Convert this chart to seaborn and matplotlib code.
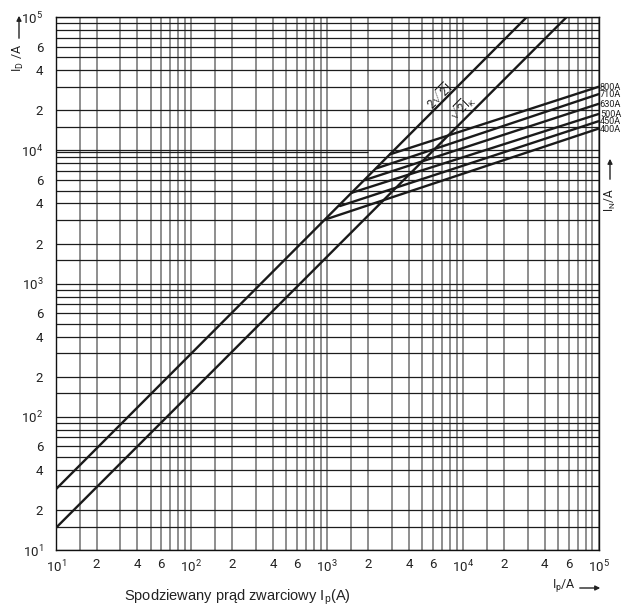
import numpy as np
import pandas as pd
import matplotlib
matplotlib.use("Agg")
import matplotlib.pyplot as plt
import seaborn as sns
from matplotlib import font_manager as fm
from matplotlib.ticker import FixedLocator

# ---------------- data ----------------
# peak-current lines (end points)
line_2sqrt2_x = [10, 29400]
line_2sqrt2_y = [28.5, 100000]
line_sqrt2_x = [10, 57800]
line_sqrt2_y = [14.6, 100000]

# fuse cut-off characteristics (start on 2*sqrt2 line, end at right edge)
fuse_ratings = ["400A", "450A", "500A", "630A", "710A", "800A"]
fuse_start_x = [991, 1242, 1514, 1897, 2316, 2904]
fuse_start_y = [3055, 3826, 4810, 6000, 7350, 9360]
fuse_end_x = [100000, 100000, 100000, 100000, 100000, 100000]
fuse_end_y = [14600, 16600, 18800, 22400, 26500, 30100]

decades = [10, 100, 1000, 10000, 100000]
decade_labels = [r"$\mathregular{10^{1}}$", r"$\mathregular{10^{2}}$", r"$\mathregular{10^{3}}$",
                 r"$\mathregular{10^{4}}$", r"$\mathregular{10^{5}}$"]
minor_label_mult = [2, 4, 6]
grid_mult = [1, 1.5, 2, 3, 4, 5, 6, 7, 8, 9]

# ---------------- style ----------------
sns.set_style("white")
names = {f.name for f in fm.fontManager.ttflist}
narrow = "Roboto" if "Roboto" in names else "DejaVu Sans"
plt.rcParams["font.family"] = [narrow, "DejaVu Sans"]
plt.rcParams["mathtext.fontset"] = "custom"
plt.rcParams["mathtext.rm"] = narrow
plt.rcParams["mathtext.it"] = narrow + ":italic"

W, H = 624, 612
fig = plt.figure(figsize=(W / 100, H / 100), dpi=100)
L, R, T, B = 55.7, 598.7, 17.3, 550.0
ax = fig.add_axes([L / W, 1 - B / H, (R - L) / W, (B - T) / H])

# ---------------- curves ----------------
rows = []
rows += [dict(x=x, y=y, curve="2sqrt2") for x, y in zip(line_2sqrt2_x, line_2sqrt2_y)]
rows += [dict(x=x, y=y, curve="sqrt2") for x, y in zip(line_sqrt2_x, line_sqrt2_y)]
for name, sx, sy, ex, ey in zip(fuse_ratings, fuse_start_x, fuse_start_y, fuse_end_x, fuse_end_y):
    rows += [dict(x=sx, y=sy, curve=name), dict(x=ex, y=ey, curve=name)]
df = pd.DataFrame(rows)

ax.set_xscale("log")
ax.set_yscale("log")
ax.set_xlim(10, 100000)
ax.set_ylim(10, 100000)

# grid
gx = [m * d for d in decades[:-1] for m in grid_mult] + [100000]
for v in gx:
    ax.axvline(v, color="#707070", lw=1.1, zorder=1)
for v in gx:
    ax.axhline(v, color="#1c1c1c", lw=0.9, zorder=1)
ax.hlines(9800, 10, 2000, color="#1c1c1c", lw=0.9, zorder=1)

sns.lineplot(data=df, x="x", y="y", units="curve", estimator=None, sort=False,
             color="#1a1a1a", lw=1.7, ax=ax, legend=False, zorder=3)
ax.set_xlim(10, 100000)
ax.set_ylim(10, 100000)

# ticks
maj = []
lab = []
for d, dl in zip(decades, decade_labels):
    maj.append(d); lab.append(dl)
    if d < 100000:
        for m in minor_label_mult:
            maj.append(m * d); lab.append(str(m))
ax.xaxis.set_major_locator(FixedLocator(maj))
ax.yaxis.set_major_locator(FixedLocator(maj))
ax.xaxis.set_minor_locator(FixedLocator([]))
ax.yaxis.set_minor_locator(FixedLocator([]))
ax.set_xticklabels(lab)
ax.set_yticklabels(lab)
ax.tick_params(axis="both", length=0, labelsize=9.5, colors="#222222")
ax.tick_params(axis="x", pad=6)
ax.tick_params(axis="y", pad=9)
ax.set_xlabel("")
ax.set_ylabel("")
for s in ax.spines.values():
    s.set_color("#111111")
    s.set_linewidth(1.0)

# fuse labels
for name, ey in zip(fuse_ratings, fuse_end_y):
    ax.annotate(name, xy=(100000, ey), xytext=(0.8, -0.5), textcoords="offset points",
                ha="left", va="center", fontsize=6.6, color="#222222", annotation_clip=False)

def fx(px):
    return px / W

def fy(py):
    return 1 - py / H

fig.text(fx(439), fy(96), r"$\mathregular{2\sqrt{2}I}$", rotation=45, ha="center", va="center",
         fontsize=8.5, color="#222222")
fig.text(fx(462), fy(108), r"$\mathregular{\sqrt{2}I_K}$", rotation=45, ha="center", va="center",
         fontsize=8.5, color="#222222")

# axis labels with arrows
fig.text(fx(18), fy(58), r"$\mathregular{I_D\ /A}$", rotation=90, ha="center", va="center",
         fontsize=9, color="#222222")
fig.add_artist(matplotlib.patches.FancyArrowPatch((fx(19), fy(41)), (fx(19), fy(13)),
               transform=fig.transFigure, arrowstyle="-|>", mutation_scale=7, lw=1.0, color="#222222"))

fig.text(fx(610), fy(200), r"$\mathregular{I_N/A}$", rotation=90, ha="center", va="center",
         fontsize=8.5, color="#222222")
fig.add_artist(matplotlib.patches.FancyArrowPatch((fx(610), fy(182)), (fx(610), fy(156)),
               transform=fig.transFigure, arrowstyle="-|>", mutation_scale=7, lw=1.0, color="#222222"))

fig.text(fx(564), fy(586), r"$\mathregular{I_p/A}$", ha="center", va="center",
         fontsize=9, color="#222222")
fig.add_artist(matplotlib.patches.FancyArrowPatch((fx(577), fy(588)), (fx(603), fy(588)),
               transform=fig.transFigure, arrowstyle="-|>", mutation_scale=7, lw=1.0, color="#222222"))

fig.text(fx(237), fy(597), r"Spodziewany prąd zwarciowy I$_\mathregular{p}$(A)", ha="center", va="center",
         fontsize=10.5, color="#222222", family=["Liberation Sans", "DejaVu Sans"])

fig.savefig("out.png", dpi=100)
